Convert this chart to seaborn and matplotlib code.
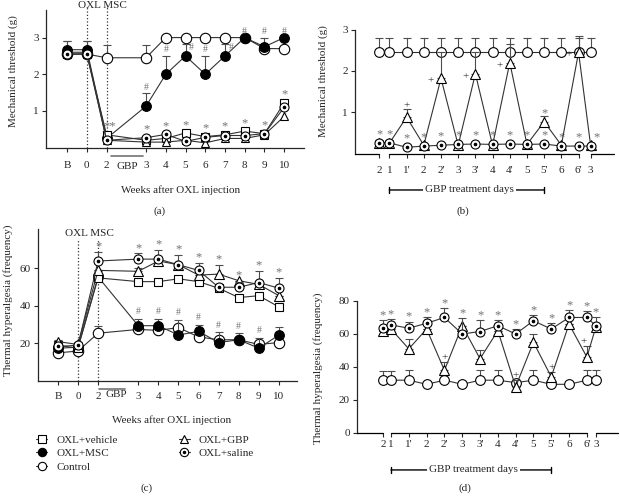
import numpy as np
import matplotlib
matplotlib.use('Agg')
import matplotlib.pyplot as plt
import seaborn as sns
from matplotlib.lines import Line2D

# ---- panel (a): mechanical threshold over weeks ----
weeks_lab = ['B', '0', '2', '3', '4', '5', '6', '7', '8', '9', '10']
weeks_pos = [0, 1, 2, 4, 5, 6, 7, 8, 9, 10, 11]

ctrl_a = [2.55, 2.55, 2.45, 2.45, 3.0, 3.0, 3.0, 3.0, 3.0, 2.7, 2.7]
ctrl_a_err = [0.35, 0.35, 0.35, 0.35, 0, 0, 0, 0, 0, 0, 0]
msc_a = [2.67, 2.67, 0.25, 1.13, 2.0, 2.5, 2.0, 2.5, 3.0, 2.75, 3.0]
msc_a_err = [0.25, 0.25, 0, 0.35, 0.5, 0.33, 0.5, 0.33, 0, 0.25, 0]
veh_a = [2.55, 2.55, 0.35, 0.2, 0.25, 0.4, 0.3, 0.35, 0.45, 0.38, 1.22]
gbp_a = [2.6, 2.6, 0.2, 0.15, 0.15, 0.2, 0.13, 0.25, 0.25, 0.35, 0.85]
sal_a = [2.55, 2.55, 0.2, 0.27, 0.36, 0.17, 0.28, 0.33, 0.33, 0.38, 1.1]

# ---- panel (b): mechanical threshold over GBP days ----
days_lab = ['2', '1', "1'", '2', "2'", '3', "3'", '4', "4'", '5', "5'", '6', "6'", '3']
ctrl_b = [2.45, 2.45, 2.45, 2.45, 2.45, 2.45, 2.45, 2.45, 2.45, 2.45, 2.45, 2.45, 2.45, 2.45]
ctrl_b_err = [0.35, 0.35, 0.35, 0.35, 0.35, 0.35, 0.35, 0.35, 0.35, 0.35, 0.35, 0.35, 0.35, 0.35]
gbp_b = [0.25, 0.25, 0.88, 0.2, 1.82, 0.2, 1.93, 0.2, 2.2, 0.22, 0.77, 0.2, 2.45, 0.2]
gbp_b_err = [0.08, 0.08, 0.2, 0, 0.63, 0, 0.52, 0, 0.45, 0, 0.13, 0, 0.4, 0]
sal_b = [0.26, 0.26, 0.15, 0.18, 0.2, 0.22, 0.23, 0.22, 0.23, 0.22, 0.23, 0.18, 0.18, 0.18]

# ---- panel (c): thermal hyperalgesia over weeks ----
ctrl_c = [15, 16, 25.5, 27.5, 27, 28.5, 23.5, 22, 22, 19.5, 20.5]
ctrl_c_err = [0, 0, 4, 0, 0, 0, 0, 0, 0, 0, 0]
msc_c = [17.5, 18, 55.5, 29.5, 29.5, 24.5, 26.5, 20.5, 22, 17.5, 24.5]
msc_c_err = [4.5, 3, 3, 3.5, 3.5, 8, 3.5, 5.5, 3.5, 5.5, 4.5]
veh_c = [19, 17.5, 55, 53, 53, 54.5, 53, 49.5, 44.5, 45.5, 39.5]
gbp_c = [21, 19.5, 59, 58.5, 64, 62, 56.5, 57, 53.5, 51.5, 45.5]
gbp_c_err = [0, 0, 0, 2, 0, 0, 0, 5, 0, 0, 0]
sal_c = [18.5, 19, 64, 65, 65, 62, 59, 50, 50, 52.5, 49.5]
sal_c_err = [0, 0, 5, 3, 5, 5, 4, 0, 3, 6, 5.5]

# ---- panel (d): thermal hyperalgesia over GBP days ----
ctrl_d = [32, 32, 32, 29.5, 32, 29.5, 32, 32, 30.5, 32, 29.5, 29.5, 32, 32]
ctrl_d_err = [5.5, 5.5, 6, 0, 0, 0, 6, 6, 0, 6, 0, 0, 6, 6]
gbp_d = [62, 63, 51, 63, 38, 65, 45, 62, 28, 55, 34, 66, 46, 64]
gbp_d_err = [0, 0, 6, 0, 5, 0, 5.5, 0, 4, 5, 3, 0, 7, 0]
sal_d = [63.5, 65.5, 63.5, 66.5, 70, 60, 61.5, 65, 60, 68, 63, 70, 70, 65]
sal_d_err = [5, 3.5, 4, 3.5, 5.5, 9.5, 7, 3.5, 3, 3.5, 3.5, 4.5, 4, 5]

sns.set_style('ticks')
plt.rcParams['font.family'] = ['Liberation Serif', 'DejaVu Serif']
plt.rcParams['font.size'] = 8

FS = 8
GREY = '0.45'


def day_positions(gap_l, gap_r):
    inner = [gap_l + i for i in range(12)]
    return [0] + inner + [inner[-1] + gap_r]


def series(ax, x, y, err, marker, ms, face, z, dot=False):
    if err is not None:
        ax.errorbar(x, y, yerr=[np.zeros(len(err)), err], fmt='none', ecolor='0.3',
                    elinewidth=0.8, capsize=3, capthick=0.8, zorder=z - 0.5)
    sns.lineplot(x=x, y=y, ax=ax, color='0.2', linewidth=0.8, marker=marker,
                 markersize=ms, markerfacecolor=face, markeredgecolor='black',
                 markeredgewidth=0.8, errorbar=None, sort=False, zorder=z)
    if dot:
        ax.plot(x, y, linestyle='none', marker='o', markersize=1.6, color='black', zorder=z + 0.1)


def style_axis(ax, pad):
    sns.despine(ax=ax)
    ax.tick_params(direction='out', length=3, width=0.8, labelsize=FS, pad=2)
    ax.tick_params(axis='x', pad=pad)
    for s in ['left', 'bottom']:
        ax.spines[s].set_linewidth(0.9)


def broken_bottom(ax, pos, xlim):
    ax.spines['bottom'].set_visible(False)
    tr = ax.get_xaxis_transform()
    for a, b in [(xlim[0], pos[0]), (pos[1], pos[-2]), (pos[-1], xlim[1])]:
        ax.plot([a, b], [0, 0], color='black', lw=0.9, transform=tr, clip_on=False, zorder=5)


def gbp_days(ax, pos, y):
    tr = ax.get_xaxis_transform()
    ax.annotate('', xy=(pos[10], y), xytext=(pos[1], y), xycoords=tr, textcoords=tr,
                arrowprops=dict(arrowstyle='|-|,widthA=0.25,widthB=0.25', lw=1, color='black',
                                shrinkA=0, shrinkB=0), annotation_clip=False)
    ax.text((pos[1] + pos[10]) / 2 + 0.15, y, 'GBP treatment days', transform=tr, ha='center',
            va='center', fontsize=FS, bbox=dict(facecolor='white', edgecolor='none', pad=1.5))


fig = plt.figure(figsize=(6.2, 4.97), dpi=100)

# ================= (a)
ax = fig.add_axes([0.0742, 0.703, 0.416, 0.2767])
xl = (-1.07, 12.0)
for xv in [weeks_pos[1], weeks_pos[2]]:
    ax.axvline(xv, ymin=0, ymax=1.02, color='0.2', ls=':', lw=0.9, clip_on=False, zorder=1)
series(ax, weeks_pos, ctrl_a, ctrl_a_err, 'o', 7.5, 'white', 3)
series(ax, weeks_pos, msc_a, msc_a_err, 'o', 7, 'black', 4)
series(ax, weeks_pos, veh_a, None, 's', 5.5, 'white', 5)
series(ax, weeks_pos, gbp_a, None, '^', 6, 'white', 6)
series(ax, weeks_pos, sal_a, None, 'o', 6.5, 'white', 7, dot=True)
for i in range(3, 11):
    if i in (5, 7):
        hx, hy = weeks_pos[i] + 0.3, msc_a[i] + 0.22
    else:
        hx, hy = weeks_pos[i], msc_a[i] + msc_a_err[i] + 0.17
    ax.text(hx, hy, '#', ha='center', va='center', fontsize=7, color=GREY, zorder=10)
for i in range(2, 11):
    top = max(veh_a[i], gbp_a[i], sal_a[i])
    ax.text(weeks_pos[i] + (0.15 if i == 2 else 0), top + 0.22, '**' if i == 2 else '*',
            ha='center', va='center', fontsize=9, color=GREY)
ax.set_xlim(xl)
ax.set_ylim(0, 3.75)
ax.set_yticks([1, 2, 3])
ax.set_xticks(weeks_pos)
ax.set_xticklabels(weeks_lab)
style_axis(ax, 6.5)
tr = ax.get_xaxis_transform()
ax.plot([2.2, 3.85], [-0.062, -0.062], color='0.45', lw=1.2, transform=tr, clip_on=False)
ax.text(3.05, -0.135, 'GBP', transform=tr, ha='center', va='center', fontsize=FS)
ax.text(0.56, 1.035, 'OXL MSC', transform=tr, ha='left', va='center', fontsize=FS)
ax.text(0.52, -0.31, 'Weeks after OXL injection', transform=ax.transAxes, ha='center',
        va='center', fontsize=FS)
ax.text(-0.128, 0.56, 'Mechanical threshold (g)', transform=ax.transAxes, rotation=90,
        ha='center', va='center', fontsize=FS)
ax.set_xlabel('')
ax.set_ylabel('')

# ================= (b)
ax = fig.add_axes([0.5726, 0.6911, 0.4177, 0.2495])
pos_b = day_positions(0.6, 0.7)
xl = (-1.40, 13.66)
series(ax, pos_b, ctrl_b, ctrl_b_err, 'o', 7, 'white', 3)
series(ax, pos_b, gbp_b, gbp_b_err, '^', 7, 'white', 4)
series(ax, pos_b, sal_b, None, 'o', 6.5, 'white', 5, dot=True)
for i in range(len(pos_b)):
    ax.text(pos_b[i] + (0.35 if i == 13 else 0), sal_b[i] + 0.21, '*', ha='center',
            va='center', fontsize=9, color=GREY)
ax.text(pos_b[2], gbp_b[2] + gbp_b_err[2] + 0.07, '+', ha='center', va='center', fontsize=8)
for i in [4, 6, 8, 12]:
    ax.text(pos_b[i] - 0.6, gbp_b[i] - 0.07, '+', ha='center', va='center', fontsize=8)
ax.text(pos_b[10], gbp_b[10] + gbp_b_err[10] + 0.08, '*', ha='center', va='center',
        fontsize=9, color=GREY)
ax.set_xlim(xl)
ax.set_ylim(0, 3)
ax.set_yticks([1, 2, 3])
ax.set_xticks(pos_b)
ax.set_xticklabels(days_lab)
style_axis(ax, 6)
broken_bottom(ax, pos_b, xl)
gbp_days(ax, pos_b, -0.294)
ax.text(-0.124, 0.585, 'Mechanical threshold (g)', transform=ax.transAxes, rotation=90,
        ha='center', va='center', fontsize=FS)
ax.set_xlabel('')
ax.set_ylabel('')

# ================= (c)
ax = fig.add_axes([0.0613, 0.2334, 0.4177, 0.3056])
xl = (-0.99, 11.9)
for xv in [weeks_pos[1], weeks_pos[2]]:
    ax.axvline(xv, ymin=0, ymax=0.93, color='0.2', ls=':', lw=0.9, zorder=1)
series(ax, weeks_pos, ctrl_c, ctrl_c_err, 'o', 7.5, 'white', 3)
series(ax, weeks_pos, msc_c, msc_c_err, 'o', 7, 'black', 4)
series(ax, weeks_pos, veh_c, None, 's', 6, 'white', 5)
series(ax, weeks_pos, gbp_c, gbp_c_err, '^', 6.5, 'white', 6)
series(ax, weeks_pos, sal_c, sal_c_err, 'o', 6.5, 'white', 7, dot=True)
for i in range(2, 11):
    top = max(sal_c[i] + sal_c_err[i], gbp_c[i] + gbp_c_err[i])
    ax.text(weeks_pos[i], top + 3, '*', ha='center', va='center', fontsize=9, color=GREY)
for i in range(3, 10):
    ax.text(weeks_pos[i], msc_c[i] + msc_c_err[i] + 3.8, '#', ha='center', va='center',
            fontsize=7, color=GREY)
ax.set_xlim(xl)
ax.set_ylim(0, 81)
ax.set_yticks([20, 40, 60])
ax.set_xticks(weeks_pos)
ax.set_xticklabels(weeks_lab)
style_axis(ax, 5)
tr = ax.get_xaxis_transform()
ax.plot([2.07, 3.35], [-0.053, -0.053], color='0.45', lw=1.2, transform=tr, clip_on=False)
ax.text(2.9, -0.09, 'GBP', transform=tr, ha='center', va='center', fontsize=FS)
ax.text(0.35, 0.97, 'OXL MSC', transform=tr, ha='left', va='center', fontsize=FS)
ax.text(0.517, -0.257, 'Weeks after OXL injection', transform=ax.transAxes, ha='center',
        va='center', fontsize=FS)
ax.text(-0.116, 0.53, 'Thermal hyperalgesia (frequency)', transform=ax.transAxes, rotation=90,
        ha='center', va='center', fontsize=FS)
ax.set_xlabel('')
ax.set_ylabel('')

kw = dict(color='0.2', lw=0.8, markeredgecolor='black', markeredgewidth=0.8)
h_veh = Line2D([], [], marker='s', markersize=5.5, markerfacecolor='white', **kw)
h_msc = Line2D([], [], marker='o', markersize=6, markerfacecolor='black', **kw)
h_ctrl = Line2D([], [], marker='o', markersize=6, markerfacecolor='white', **kw)
h_gbp = Line2D([], [], marker='^', markersize=6, markerfacecolor='white', **kw)
h_sal = (Line2D([], [], marker='o', markersize=6, markerfacecolor='white', **kw),
         Line2D([], [], linestyle='none', marker='o', markersize=1.5, color='black'))
ax.legend([h_veh, h_msc, h_ctrl, h_gbp, h_sal],
          ['OXL+vehicle', 'OXL+MSC', 'Control', 'OXL+GBP', 'OXL+saline'],
          ncol=2, loc='upper left', bbox_to_anchor=(-0.024, -0.325), frameon=False,
          fontsize=FS, handlelength=1.0, handletextpad=0.8, labelspacing=0.35,
          columnspacing=5.5, borderaxespad=0)

# ================= (d)
ax = fig.add_axes([0.5758, 0.1288, 0.421, 0.2656])
pos_d = day_positions(0.45, 0.5)
xl = (-1.46, 13.2)
series(ax, pos_d, ctrl_d, ctrl_d_err, 'o', 7, 'white', 3)
series(ax, pos_d, gbp_d, gbp_d_err, '^', 7, 'white', 4)
series(ax, pos_d, sal_d, sal_d_err, 'o', 6.5, 'white', 5, dot=True)
for i in range(len(pos_d)):
    ax.text(pos_d[i], sal_d[i] + sal_d_err[i] + 3, '*', ha='center', va='center',
            fontsize=9, color=GREY)
for i in [4, 8, 10, 12]:
    ax.text(pos_d[i] - (0.2 if i == 12 else 0), gbp_d[i] + gbp_d_err[i] + 2.5, '+',
            ha='center', va='center', fontsize=8)
ax.set_xlim(xl)
ax.set_ylim(0, 80)
ax.set_yticks([0, 20, 40, 60, 80])
ax.set_xticks(pos_d)
ax.set_xticklabels(days_lab)
style_axis(ax, 2)
broken_bottom(ax, pos_d, xl)
gbp_days(ax, pos_d, -0.28)
ax.text(-0.149, 0.49, 'Thermal hyperalgesia (frequency)', transform=ax.transAxes, rotation=90,
        ha='center', va='center', fontsize=FS)
ax.set_xlabel('')
ax.set_ylabel('')

fig.text(160 / 620, 1 - 211 / 497, '(a)', ha='center', va='center', fontsize=FS)
fig.text(463 / 620, 1 - 211 / 497, '(b)', ha='center', va='center', fontsize=FS)
fig.text(147 / 620, 1 - 488 / 497, '(c)', ha='center', va='center', fontsize=FS)
fig.text(465 / 620, 1 - 488 / 497, '(d)', ha='center', va='center', fontsize=FS)

fig.savefig('out.png', dpi=100)
